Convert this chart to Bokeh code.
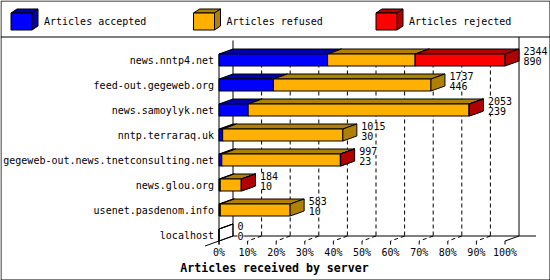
from bokeh.plotting import figure
from bokeh.models import Range1d, ColumnDataSource
from bokeh.core.properties import value
from bokeh.embed import file_html
from bokeh.resources import INLINE

# ---------------- data ----------------
servers = ["news.nntp4.net", "feed-out.gegeweb.org", "news.samoylyk.net",
           "nntp.terraraq.uk", "gegeweb-out.news.tnetconsulting.net",
           "news.glou.org", "usenet.pasdenom.info", "localhost"]
offered = [2344, 1737, 2053, 1015, 997, 184, 583, 0]
accepted = [890, 446, 239, 30, 23, 10, 10, 0]
refused = [718, 1291, 1811, 985, 972, 173, 573, 0]
rejected = [736, 0, 3, 0, 2, 1, 0, 0]
series_names = ["Articles accepted", "Articles refused", "Articles rejected"]
front_colors = ["#0000FF", "#FFB000", "#FF0000"]
dark_colors = ["#0000A8", "#B08000", "#B00000"]
pct_ticks = [0, 10, 20, 30, 40, 50, 60, 70, 80, 90, 100]
pct_labels = ["0%", "10%", "20%", "30%", "40%", "50%", "60%", "70%", "80%", "90%", "100%"]
axis_title = "Articles received by server"

# ---------------- layout ----------------
W, H = 550, 280
X0, PX_PER_PCT = 218.5, 2.86
ROW0, ROW_H = 59.5, 25.0
DEPTH_X, DEPTH_Y = 14.0, -5.0
HALF_BAR = 6.0
FONT = value("DejaVu Sans Mono")


def X(px):
    return (px - X0) / PX_PER_PCT


def Y(py):
    return (py - ROW0) / ROW_H


def dX(px):
    return px / PX_PER_PCT


def dY(py):
    return py / ROW_H


p = figure(width=W, height=H, x_range=Range1d(X(0), X(W)), y_range=Range1d(Y(H), Y(0)),
           output_backend="svg", toolbar_location=None, min_border=0,
           x_axis_location=None, y_axis_location=None)
p.grid.visible = False
p.outline_line_color = None
p.background_fill_color = "white"
p.border_fill_color = "white"

n = len(servers)
ddx, ddy = dX(DEPTH_X), dY(DEPTH_Y)
hb = dY(HALF_BAR)
floor_front = (n - 1) + hb
floor_back = floor_front + ddy
scale = 100.0 / max(offered)

# outer border and legend separator
p.quad(left=[X(0.5)], right=[X(549.5)], top=[Y(0.5)], bottom=[Y(279.5)],
       fill_alpha=0, line_color="black", line_width=1)
p.segment(x0=[X(0)], x1=[X(W)], y0=[Y(36.5)], y1=[Y(36.5)], line_color="black")

# walls
p.segment(x0=[100 + ddx], x1=[100 + ddx], y0=[Y(36.5)], y1=[floor_back], line_color="black")
p.segment(x0=[ddx], x1=[ddx], y0=[Y(40)], y1=[floor_back], line_color="black")
p.segment(x0=[0], x1=[0], y0=[Y(53.5)], y1=[floor_front + dY(3.5)], line_color="black")
p.segment(x0=[ddx], x1=[X(535.5)], y0=[floor_back], y1=[floor_back], line_color="black")

# gridlines on back wall and floor
inner = [t for t in pct_ticks if 0 < t < 100]
p.segment(x0=[t + ddx for t in inner], x1=[t + ddx for t in inner],
          y0=[Y(49)] * len(inner), y1=[floor_back] * len(inner),
          line_color="black", line_dash="4 3")
p.segment(x0=[t + ddx for t in inner], x1=inner,
          y0=[floor_back] * len(inner), y1=[floor_front] * len(inner),
          line_color="black", line_dash="4 3")
p.segment(x0=[-ddx, 100], x1=[ddx, 100 + ddx],
          y0=[floor_front - ddy, floor_front], y1=[floor_back, floor_back],
          line_color="black")
p.segment(x0=pct_ticks, x1=pct_ticks, y0=[floor_front] * len(pct_ticks),
          y1=[floor_front + dY(3.5)] * len(pct_ticks), line_color="black")

# 3D bars
xs, ys, fills, alphas = [], [], [], []


def add(px, py, color, alpha=1.0):
    xs.append(px)
    ys.append(py)
    fills.append(color)
    alphas.append(alpha)


for i in range(n):
    yt, yb = i - hb, i + hb
    segs = [accepted[i], refused[i], rejected[i]]
    if sum(segs) == 0:
        add([0, 0, ddx, ddx], [yt, yt, yt + ddy, yt + ddy], "white", 0)
        add([0, 0, 0, 0], [yt, yt, yb, yb], "white", 0)
        add([0, ddx, ddx, 0], [yt, yt + ddy, yb + ddy, yb], "white", 0)
        continue
    start = 0.0
    for k, v in enumerate(segs):
        if v <= 0:
            continue
        x0, x1 = start, start + v * scale
        add([x0, x1, x1 + ddx, x0 + ddx], [yt, yt, yt + ddy, yt + ddy], dark_colors[k])
        add([x0, x1, x1, x0], [yt, yt, yb, yb], front_colors[k])
        add([x1, x1 + ddx, x1 + ddx, x1], [yt, yt + ddy, yb + ddy, yb], dark_colors[k])
        start = x1

src = ColumnDataSource(dict(xs=xs, ys=ys, fill=fills, alpha=alphas))
p.patches("xs", "ys", source=src, fill_color="fill", fill_alpha="alpha",
          line_color="black", line_width=1)

# value labels (drawn on white so the gridlines stop behind them)
lx = [o * scale + dX(DEPTH_X + 4.5) for o in offered]
p.text(x=lx, y=[i + dY(-9) for i in range(n)], text=[str(o) for o in offered],
       text_font=FONT, text_font_size="10px", text_color="black",
       text_align="left", text_baseline="alphabetic", background_fill_color="white")
p.text(x=lx, y=[i + dY(1) for i in range(n)], text=[str(a) for a in accepted],
       text_font=FONT, text_font_size="10px", text_color="black",
       text_align="left", text_baseline="alphabetic", background_fill_color="white")

# category labels
p.text(x=[X(213.5)] * n, y=list(range(n)), text=servers, text_font=FONT,
       text_font_size="10px", text_color="black", text_align="right",
       text_baseline="middle")

# percent tick labels
p.text(x=pct_ticks, y=[Y(252)] * len(pct_ticks), text=pct_labels, text_font=FONT,
       text_font_size="10px", text_color="black", text_align="center",
       text_baseline="middle")

# axis title
p.text(x=[X(274)], y=[Y(267.5)], text=[axis_title], text_font=FONT,
       text_font_size="11.6px", text_font_style="bold", text_color="black",
       text_align="center", text_baseline="middle")

# legend cubes
lxs, lys, lfills = [], [], []
for k in range(3):
    fx0 = 10.5 + 182.5 * k
    fx1, fy0, fy1 = fx0 + 21, 12.5, 29.5
    bx, by = 6.0, -4.0
    lxs += [[X(fx0), X(fx1), X(fx1 + bx), X(fx0 + bx)],
            [X(fx1), X(fx1 + bx), X(fx1 + bx), X(fx1)],
            [X(fx0), X(fx1), X(fx1), X(fx0)]]
    lys += [[Y(fy0), Y(fy0), Y(fy0 + by), Y(fy0 + by)],
            [Y(fy0), Y(fy0 + by), Y(fy1 + by), Y(fy1)],
            [Y(fy0), Y(fy0), Y(fy1), Y(fy1)]]
    lfills += [dark_colors[k], dark_colors[k], front_colors[k]]
p.patches(xs=lxs, ys=lys, fill_color=lfills, line_color="black", line_width=1)
p.text(x=[X(43.5 + 182.5 * k) for k in range(3)], y=[Y(21)] * 3, text=series_names,
       text_font=FONT, text_font_size="10px", text_color="black",
       text_align="left", text_baseline="middle")

open("out.html", "w").write(file_html(p, INLINE))
